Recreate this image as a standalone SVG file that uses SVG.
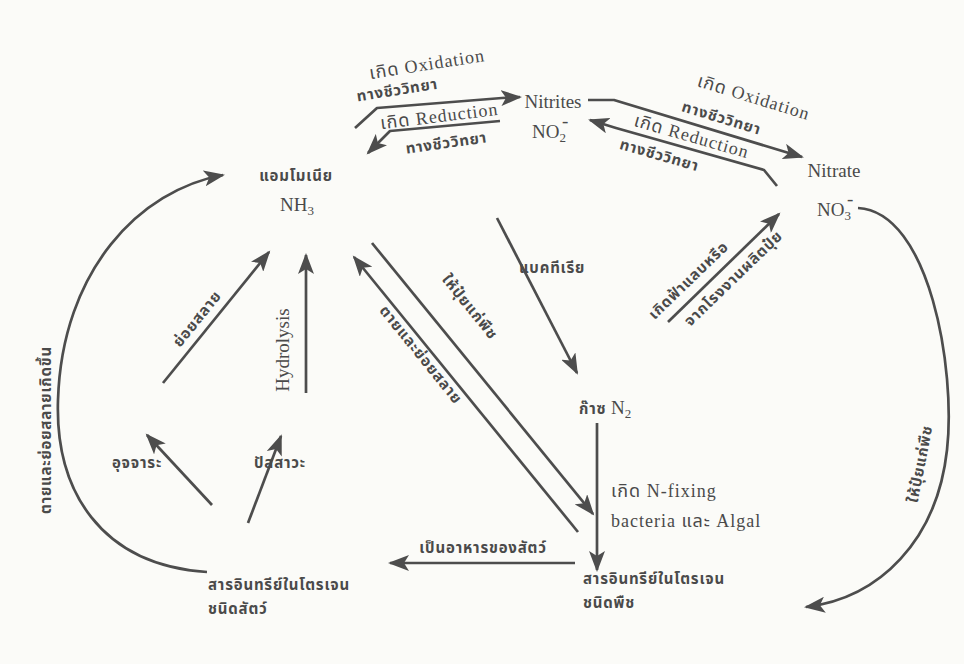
<svg xmlns="http://www.w3.org/2000/svg" width="964" height="664" viewBox="0 0 964 664">
<style>
.th{font-family:"Noto Sans Thai","Noto Sans Thai Looped","Loma","Garuda","Norasi","Liberation Sans",sans-serif;font-size:15px;fill:#4a4a4a;font-weight:bold;letter-spacing:0.8px}
.la{font-family:"Liberation Serif","Noto Sans Thai","Loma","Garuda",serif;font-size:19px;fill:#4a4a4a}
.mx{font-family:"Liberation Serif","Noto Sans Thai","Loma","Garuda",serif;font-size:18px;fill:#4a4a4a;letter-spacing:1px}
.ca{fill:none;stroke:#4d4d4d;stroke-width:2.7;stroke-linejoin:round;marker-end:url(#ah)}
</style>
<defs>
<marker id="ah" markerUnits="userSpaceOnUse" markerWidth="22" markerHeight="16" refX="19" refY="8" orient="auto">
<path d="M0,0 L21,8 L0,16 L5,8 z" fill="#4d4d4d"/>
</marker>
</defs>
<rect width="964" height="664" fill="#fbfbf8"/>

<g id="connectors">
<path class="ca" d="M355,128 L377,108 L502,98 L520,97"/>
<path class="ca" d="M500,121 L390,131 L368,153"/>
<path class="ca" d="M588,100 L614,100 L802,157"/>
<path class="ca" d="M777,186 L764,170 L616,128 L590,120"/>
<path class="ca" d="M858,208 C930,212 956,370 947,450 C937,540 880,598 806,607"/>
<path class="ca" d="M207,572 C100,565 55,490 58,400 C62,270 140,190 223,175"/>
<path class="ca" d="M163,383 L269,252"/>
<path class="ca" d="M306,393 L306,255"/>
<path class="ca" d="M372,243 L593,514"/>
<path class="ca" d="M578,532 L354,257"/>
<path class="ca" d="M497,218 L577,373"/>
<path class="ca" d="M668,322 L779,214"/>
<path class="ca" d="M597,423 L597,570"/>
<path class="ca" d="M575,563 L390,563"/>
<path class="ca" d="M212,505 L147,435"/>
<path class="ca" d="M248,523 L281,436"/>
</g>

<g id="labels">
<text class="mx" text-anchor="middle" transform="rotate(-9 428 70)" x="428" y="70">เกิด Oxidation</text>
<text class="th" text-anchor="middle" transform="rotate(-9 398 95)" x="398" y="95">ทางชีววิทยา</text>
<text class="mx" text-anchor="middle" transform="rotate(-7 440 122)" x="440" y="122">เกิด Reduction</text>
<text class="th" text-anchor="middle" transform="rotate(-8 447 148)" x="447" y="148">ทางชีววิทยา</text>
<text class="mx" text-anchor="middle" transform="rotate(17 752 103)" x="752" y="103">เกิด Oxidation</text>
<text class="th" text-anchor="middle" transform="rotate(17 720 123)" x="720" y="123">ทางชีววิทยา</text>
<text class="mx" text-anchor="middle" transform="rotate(16 690 142)" x="690" y="142">เกิด Reduction</text>
<text class="th" text-anchor="middle" transform="rotate(16 658 160)" x="658" y="160">ทางชีววิทยา</text>
<text class="th" x="519" y="273">แบคทีเรีย</text>
<text class="th" text-anchor="middle" transform="rotate(51 466 310)" x="466" y="310">ให้ปุ๋ยแก่พืช</text>
<text class="th" text-anchor="middle" transform="rotate(51 417 358)" x="417" y="358">ตายและย่อยสลาย</text>
<text class="th" text-anchor="middle" transform="rotate(-44 692 284)" x="692" y="284">เกิดฟ้าแลบหรือ</text>
<text class="th" text-anchor="middle" transform="rotate(-44 737 282)" x="737" y="282">จากโรงงานผลิตปุ๋ย</text>
<text class="th" text-anchor="middle" transform="rotate(-51 201 322)" x="201" y="322">ย่อยสลาย</text>
<text class="la" text-anchor="middle" transform="rotate(-90 289 350)" x="289" y="350">Hydrolysis</text>
<text class="th" text-anchor="middle" transform="rotate(-90 51 430)" x="51" y="430">ตายและย่อยสลายเกิดขึ้น</text>
<text class="mx" x="611" y="497">เกิด N-fixing</text>
<text class="mx" x="611" y="527">bacteria และ Algal</text>
<text class="th" text-anchor="middle" x="483" y="553">เป็นอาหารของสัตว์</text>
<text class="th" text-anchor="middle" transform="rotate(-79 925 465)" x="925" y="465">ให้ปุ๋ยแก่พืช</text>
</g>

<g id="ammonia">
<text class="th" text-anchor="middle" x="296" y="181">แอมโมเนีย</text>
<text class="la" text-anchor="middle" font-size="20" x="297" y="211">NH<tspan font-size="13" dy="4">3</tspan></text>
</g>
<g id="nitrites">
<text class="la" text-anchor="middle" x="553" y="108">Nitrites</text>
<text class="la" text-anchor="middle" x="549" y="138">NO<tspan font-size="13" dy="4">2</tspan></text>
<text class="la" font-size="11" x="562" y="127">-</text>
</g>
<g id="nitrate">
<text class="la" text-anchor="middle" x="834" y="177">Nitrate</text>
<text class="la" text-anchor="middle" x="834" y="216">NO<tspan font-size="13" dy="4">3</tspan></text>
<text class="la" font-size="11" x="847" y="205">-</text>
</g>
<g id="gas">
<text class="la" x="579" y="414"><tspan class="th">ก๊าซ</tspan>  N<tspan font-size="13" dy="4">2</tspan></text>
</g>
<g id="feces">
<text class="th" text-anchor="middle" x="137" y="468">อุจจาระ</text>
</g>
<g id="urine">
<text class="th" text-anchor="middle" x="280" y="468">ปัสสาวะ</text>
</g>
<g id="animal">
<text class="th" x="208" y="590">สารอินทรีย์ในโตรเจน</text>
<text class="th" x="208" y="614">ชนิดสัตว์</text>
</g>
<g id="plant">
<text class="th" x="583" y="584">สารอินทรีย์ในโตรเจน</text>
<text class="th" x="583" y="608">ชนิดพืช</text>
</g>
</svg>
